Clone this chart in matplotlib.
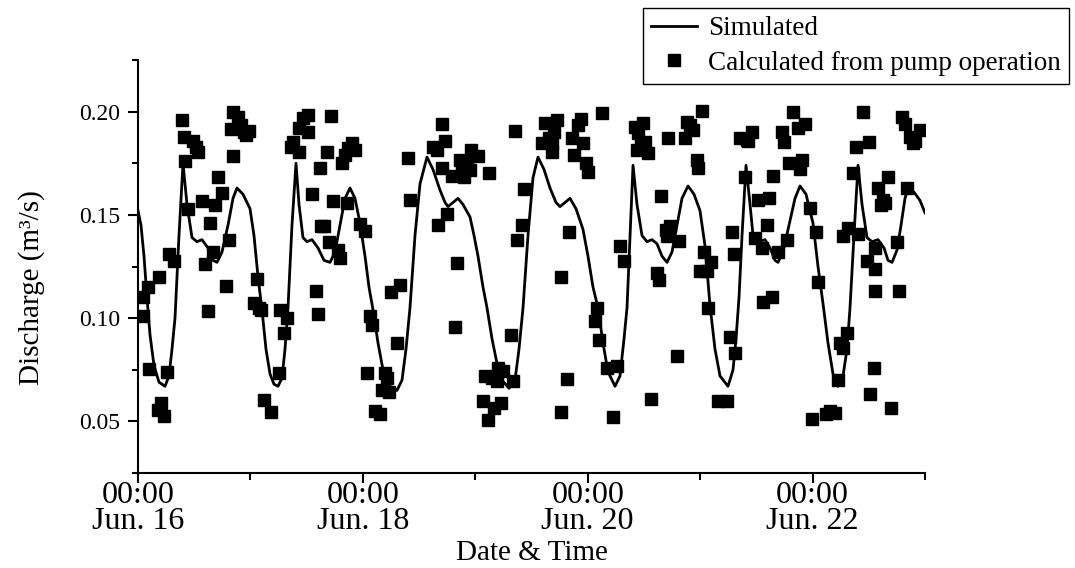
import matplotlib
matplotlib.use("Agg")
import matplotlib.pyplot as plt
from matplotlib.lines import Line2D
from matplotlib.legend_handler import HandlerLine2D
from matplotlib.ticker import MultipleLocator, FixedLocator, FixedFormatter, FormatStrFormatter

plt.rcParams['font.family'] = ['Liberation Serif', 'DejaVu Serif']

# ---- data (time in hours since 00:00 Jun. 16, discharge in m3/s) ----
sim_hours = [
    0.00, 0.64, 1.28, 1.92, 2.56, 3.42, 4.48, 5.76, 6.62, 7.26,
    7.90, 8.75, 9.61, 10.46, 11.53, 12.59, 13.66, 14.94, 16.01, 16.86,
    17.93, 19.21, 20.28, 21.13, 22.41, 23.91, 24.76, 25.62, 26.47, 27.32,
    28.18, 29.03, 29.89, 30.74, 31.38, 32.02, 32.87, 33.73, 34.37, 35.22,
    36.08, 37.14, 38.42, 39.71, 40.99, 42.05, 43.12, 44.19, 45.26, 46.32,
    47.39, 48.46, 49.31, 50.17, 51.23, 52.30, 53.79, 55.29, 56.36, 57.21,
    58.06, 59.13, 60.20, 61.69, 62.97, 64.47, 65.54, 66.18, 67.24, 68.31,
    69.38, 70.87, 71.73, 72.58, 73.65, 74.50, 75.57, 76.64, 77.70, 79.20,
    80.48, 81.33, 82.19, 83.25, 84.32, 85.39, 86.67, 87.95, 89.23, 90.08,
    91.15, 92.22, 93.50, 94.99, 96.06, 97.13, 98.20, 99.26, 100.33, 101.83,
    102.89, 103.75, 104.39, 105.03, 105.67, 106.52, 107.59, 108.66, 109.72, 110.79,
    111.86, 112.93, 113.99, 115.06, 116.13, 117.41, 118.69, 119.97, 121.04, 122.11,
    123.17, 124.24, 125.95, 127.02, 127.66, 128.30, 128.94, 129.79, 130.65, 131.29,
    132.35, 133.85, 134.91, 135.98, 136.62, 137.69, 138.97, 140.25, 141.32, 142.60,
    144.09, 145.16, 146.23, 147.29, 148.36, 149.43, 150.50, 151.35, 151.99, 152.84,
    153.70, 154.56, 155.62, 156.69, 157.97, 159.25, 160.10, 160.96, 162.03, 162.88,
    163.73, 164.37, 165.65, 166.93, 168.00,
]
sim_flow = [
    0.152, 0.145, 0.130, 0.110, 0.092, 0.077, 0.069, 0.067, 0.072, 0.085,
    0.100, 0.140, 0.175, 0.155, 0.139, 0.137, 0.138, 0.134, 0.128, 0.127,
    0.132, 0.145, 0.158, 0.163, 0.160, 0.153, 0.140, 0.120, 0.104, 0.085,
    0.073, 0.068, 0.067, 0.071, 0.085, 0.105, 0.145, 0.175, 0.155, 0.139,
    0.137, 0.138, 0.134, 0.128, 0.127, 0.132, 0.145, 0.158, 0.163, 0.158,
    0.146, 0.130, 0.115, 0.104, 0.088, 0.075, 0.067, 0.065, 0.070, 0.085,
    0.105, 0.140, 0.165, 0.178, 0.172, 0.162, 0.156, 0.154, 0.156, 0.158,
    0.155, 0.149, 0.140, 0.130, 0.115, 0.105, 0.090, 0.078, 0.070, 0.066,
    0.070, 0.085, 0.105, 0.140, 0.168, 0.178, 0.172, 0.163, 0.156, 0.154,
    0.156, 0.158, 0.153, 0.143, 0.130, 0.115, 0.105, 0.088, 0.074, 0.067,
    0.072, 0.090, 0.105, 0.140, 0.174, 0.155, 0.140, 0.137, 0.138, 0.136,
    0.130, 0.127, 0.132, 0.145, 0.158, 0.164, 0.160, 0.152, 0.135, 0.106,
    0.085, 0.072, 0.067, 0.075, 0.090, 0.110, 0.140, 0.174, 0.155, 0.140,
    0.137, 0.138, 0.134, 0.128, 0.127, 0.132, 0.145, 0.158, 0.164, 0.160,
    0.146, 0.125, 0.107, 0.088, 0.073, 0.067, 0.072, 0.085, 0.105, 0.140,
    0.174, 0.155, 0.139, 0.137, 0.138, 0.134, 0.128, 0.127, 0.133, 0.145,
    0.158, 0.163, 0.161, 0.157, 0.151,
]

pump_hours = [
    1.14, 1.14, 2.06, 2.42, 4.20, 4.55, 4.91, 5.62, 6.12, 6.69,
    7.61, 9.32, 9.89, 10.11, 10.75, 11.67, 12.38, 12.74, 13.66, 14.37,
    14.87, 15.37, 15.94, 16.44, 17.01, 17.93, 18.79, 19.36, 19.85, 20.21,
    20.21, 21.28, 21.99, 22.70, 23.06, 23.77, 24.84, 25.33, 25.90, 26.26,
    26.97, 28.39, 30.03, 30.31, 31.24, 31.74, 32.66, 33.02, 34.44, 34.44,
    35.15, 36.22, 36.22, 37.15, 38.00, 38.35, 38.93, 39.07, 39.78, 40.35,
    40.85, 41.20, 41.70,
    42.76, 43.12, 43.47, 44.18, 44.54, 44.90, 45.61, 46.32, 47.39, 48.45,
    48.95, 49.52, 50.02, 50.59, 51.66, 52.01, 52.72, 53.08, 53.58, 54.00,
    55.21, 55.93, 57.71, 58.06, 63.04, 63.75, 64.11, 64.82, 64.82, 65.53,
    66.03, 66.96, 67.67, 68.02, 68.74, 69.09, 69.66, 70.16, 70.87, 71.08,
    72.65, 73.72, 74.07, 74.64, 74.93, 75.50, 76.06, 76.56, 76.92, 77.42,
    77.99, 79.62, 80.12, 80.48, 80.83, 81.90, 82.40,
    86.17, 86.88, 87.74, 88.31, 88.45, 88.88, 89.38, 90.30, 90.30, 91.51,
    92.08, 92.58, 93.15, 94.00, 94.50, 95.07, 95.57, 96.14, 97.56, 97.91,
    98.41, 98.98, 100.05, 101.47, 102.18, 102.90, 103.82, 106.10, 106.45, 106.81,
    107.38, 107.88, 108.23, 108.94, 109.44, 110.72, 111.22, 111.65, 112.64, 112.86,
    113.21, 113.57, 115.14, 115.49, 116.77, 117.13, 117.84, 118.55, 119.26, 119.62,
    119.97, 120.33, 120.90, 121.40, 121.75, 122.32, 123.75, 125.67, 126.38, 126.73,
    127.30, 127.45,
    128.50, 129.57, 129.93, 130.28, 131.00, 131.71, 132.42, 133.13, 133.49, 134.20,
    134.77, 135.27, 135.62, 136.55, 137.40, 137.90, 138.47, 139.04, 139.89, 140.96,
    141.31, 141.67, 142.38, 143.45, 143.80, 144.73, 145.08, 146.86, 147.72, 148.78,
    149.50, 149.85, 150.42, 150.56, 151.28, 151.63, 152.70, 153.20, 153.77, 154.69,
    155.55, 156.12, 156.26, 157.11, 157.33, 157.33, 157.33, 158.04, 158.53, 159.10,
    159.46, 160.17, 160.74, 161.95, 162.52, 163.02, 163.73, 164.08, 164.80, 165.51,
    165.86, 166.93,
]
pump_flow = [
    0.1100, 0.1010, 0.1150, 0.0755, 0.0553, 0.1198, 0.0589, 0.0524, 0.0739, 0.1311,
    0.1279, 0.1960, 0.1879, 0.1761, 0.1527, 0.1858, 0.1831, 0.1806, 0.1565, 0.1261,
    0.1035, 0.1463, 0.1319, 0.1548, 0.1682, 0.1605, 0.1156, 0.1379, 0.1916, 0.2000,
    0.1785, 0.1976, 0.1935, 0.1903, 0.1887, 0.1908, 0.1073, 0.1189, 0.1048, 0.1040,
    0.0602, 0.0544, 0.0734, 0.1037, 0.0927, 0.1000, 0.1831, 0.1855, 0.1919, 0.1806,
    0.1968, 0.1984, 0.1903, 0.1600, 0.1132, 0.1019, 0.1726, 0.1444, 0.1444, 0.1806,
    0.1371, 0.1981, 0.1565,
    0.1331, 0.1290, 0.1750, 0.1790, 0.1556, 0.1823, 0.1847, 0.1815, 0.1455, 0.1423,
    0.0734, 0.1008, 0.0968, 0.0548, 0.0535, 0.0653, 0.0734, 0.0710, 0.0642, 0.1126,
    0.0879, 0.1161, 0.1774, 0.1573, 0.1831, 0.1815, 0.1452, 0.1939, 0.1726, 0.1858,
    0.1503, 0.1689, 0.0955, 0.1269, 0.1766, 0.1726, 0.1685, 0.1750, 0.1718, 0.1815,
    0.1787, 0.0597, 0.0718, 0.0508, 0.1702, 0.0710, 0.0565, 0.0694, 0.0758, 0.0589,
    0.0742, 0.0916, 0.0694, 0.1908, 0.1379, 0.1452, 0.1626,
    0.1847, 0.1944, 0.1871, 0.1806, 0.1847, 0.1903, 0.1960, 0.1198, 0.0545, 0.0705,
    0.1419, 0.1871, 0.1790, 0.1935, 0.1965, 0.1850, 0.1750, 0.1706, 0.0984, 0.1048,
    0.0892, 0.1992, 0.0758, 0.0519, 0.0766, 0.1347, 0.1279, 0.1927, 0.1815, 0.1895,
    0.1847, 0.1944, 0.1855, 0.1798, 0.0608, 0.1218, 0.1185, 0.1589, 0.1427, 0.1398,
    0.1871, 0.1444, 0.0819, 0.1374, 0.1871, 0.1952, 0.1935, 0.1911, 0.1766, 0.1726,
    0.1229, 0.2003, 0.1318, 0.1226, 0.1048, 0.1274, 0.0597, 0.0597, 0.0911, 0.1419,
    0.1310, 0.0831,
    0.1871, 0.1682, 0.1863, 0.1858, 0.1903, 0.1387, 0.1573, 0.1339, 0.1077, 0.1452,
    0.1584, 0.1102, 0.1689, 0.1318, 0.1903, 0.1855, 0.1379, 0.1750, 0.2000, 0.1919,
    0.1723, 0.1766, 0.1939, 0.1535, 0.0513, 0.1419, 0.1177, 0.0535, 0.0548, 0.0540,
    0.0702, 0.0879, 0.1400, 0.0855, 0.0927, 0.1435, 0.1702, 0.1831, 0.1406, 0.2000,
    0.1277, 0.1855, 0.0632, 0.0758, 0.1339, 0.1239, 0.1129, 0.1632, 0.1548, 0.1573,
    0.1556, 0.1682, 0.0565, 0.1368, 0.1132, 0.1976, 0.1939, 0.1632, 0.1879, 0.1847,
    0.1858, 0.1911,
]

major_hours = [0, 48, 96, 144]
minor_hours = [24, 72, 120, 168]
date_labels = ["00:00\nJun. 16", "00:00\nJun. 18", "00:00\nJun. 20", "00:00\nJun. 22"]

series_labels = ["Simulated", "Calculated from pump operation"]

# ---- figure ----
fig = plt.figure(figsize=(10.75, 5.68), dpi=100)
ax = fig.add_axes([138 / 1075, 1 - 473 / 568, 787 / 1075, 413 / 568])

ax.plot(sim_hours, sim_flow, color="black", lw=2.0, zorder=3)
ax.plot(pump_hours, pump_flow, ls="none", marker="s", ms=8, color="black", zorder=2)

ax.set_xlim(0, 168)
ax.set_ylim(0.025, 0.225)

for side in ("top", "right"):
    ax.spines[side].set_visible(False)
for side in ("left", "bottom"):
    ax.spines[side].set_linewidth(1.5)

ax.xaxis.set_major_locator(FixedLocator(major_hours))
ax.xaxis.set_major_formatter(FixedFormatter(date_labels))
ax.xaxis.set_minor_locator(FixedLocator(minor_hours))
ax.yaxis.set_major_locator(MultipleLocator(0.05))
ax.yaxis.set_minor_locator(MultipleLocator(0.025))
ax.yaxis.set_major_formatter(FormatStrFormatter("%.2f"))

ax.tick_params(axis="x", which="major", direction="out", length=7, width=1.5,
               labelsize=23, pad=-1)
ax.tick_params(axis="x", which="minor", direction="out", length=5, width=1.5)
ax.tick_params(axis="y", which="major", direction="out", length=7, width=1.5,
               labelsize=17, pad=6)
ax.tick_params(axis="y", which="minor", direction="out", length=4.5, width=1.5)
for lbl in ax.get_xticklabels():
    lbl.set_linespacing(0.85)

ax.set_xlabel("Date & Time", fontsize=21)
ax.xaxis.set_label_coords(0.5, -0.162)
ax.set_ylabel("Discharge (m³/s)", fontsize=21)
ax.yaxis.set_label_coords(-0.118, 0.448)


class RightMarkerHandler(HandlerLine2D):
    def get_xdata(self, legend, xdescent, ydescent, width, height, fontsize):
        xdata, _ = super().get_xdata(legend, xdescent, ydescent, width, height, fontsize)
        return xdata, [-xdescent + width - 0.1 * fontsize]


line_handle = Line2D([], [], color="black", lw=2.0)
marker_handle = Line2D([], [], ls="none", marker="s", ms=8, color="black")
leg = fig.legend([line_handle, marker_handle], series_labels,
                 loc="upper right", bbox_to_anchor=(1069 / 1075, 1 - 8 / 568),
                 bbox_transform=fig.transFigure, fontsize=19.5,
                 frameon=True, fancybox=False, edgecolor="black", framealpha=1,
                 borderpad=0.3, handlelength=1.7, handletextpad=0.4,
                 labelspacing=0.35, borderaxespad=0,
                 handler_map={marker_handle: RightMarkerHandler()})
leg.get_frame().set_linewidth(1.0)

fig.savefig("out.png", dpi=100)
